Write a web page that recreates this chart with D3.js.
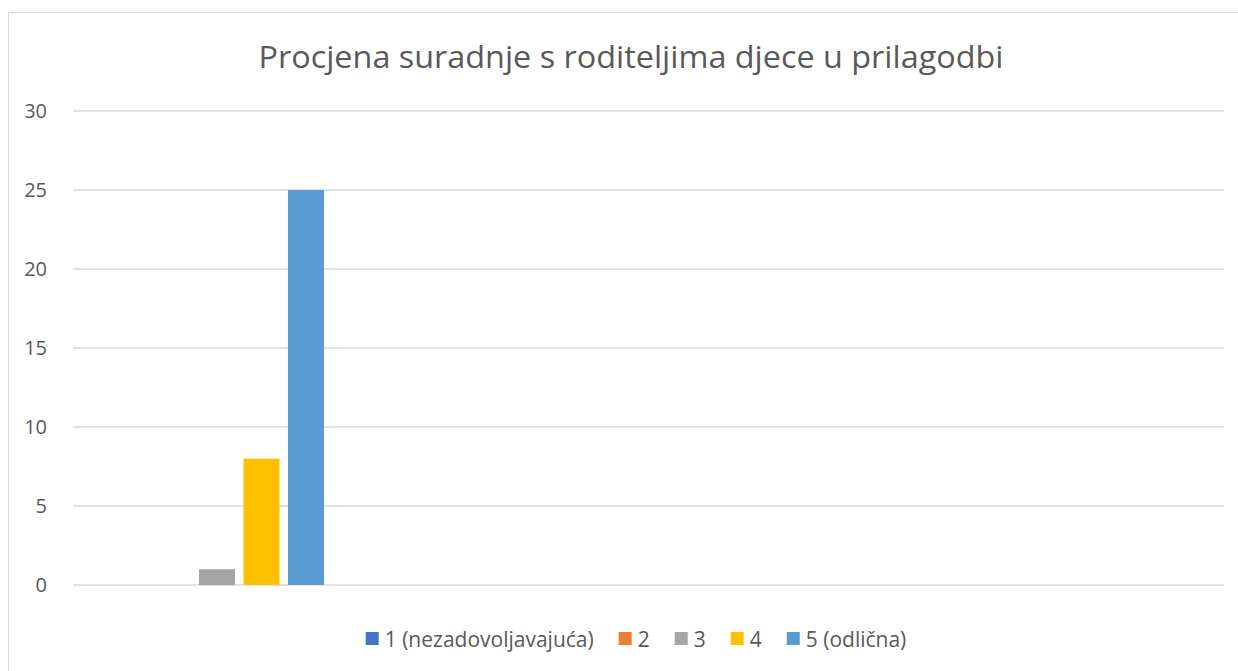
<!DOCTYPE html>
<html>
<head>
<meta charset="utf-8">
<script src="https://cdn.jsdelivr.net/npm/d3@7"></script>
<style>
  body { margin: 0; background: #fff; }
  text { font-family: "Open Sans", "Liberation Sans", sans-serif; }
</style>
</head>
<body>
<div id="chart"></div>
<script>
// data
var seriesNames = ["1 (nezadovoljavajuća)", "2", "3", "4", "5 (odlična)"];
var seriesValues = [0, 0, 1, 8, 25];
var seriesColors = ["#4472c4", "#ed7d31", "#a5a5a5", "#ffc000", "#5b9bd5"];
var yTicks = [0, 5, 10, 15, 20, 25, 30];
var title = "Procjena suradnje s roditeljima djece u prilagodbi";

var W = 1238, H = 671;
var margin = {top: 111, right: 14, bottom: 86, left: 73};
var width = W - margin.left - margin.right,
    height = H - margin.top - margin.bottom;

var svg = d3.select("#chart")
  .append("svg")
    .attr("width", W)
    .attr("height", H);

// chart border (cropped on right/bottom like the original)
svg.append("rect")
    .attr("x", 8.5).attr("y", 12.5)
    .attr("width", W + 20).attr("height", H + 20)
    .attr("fill", "none")
    .attr("stroke", "#d9d9d9")
    .attr("stroke-width", 1);

svg.append("text")
    .attr("x", 631).attr("y", 68)
    .attr("text-anchor", "middle")
    .attr("textLength", 745)
    .attr("lengthAdjust", "spacingAndGlyphs")
    .style("font-size", "31px")
    .style("fill", "#595959")
    .text(title);

var g = svg.append("g")
    .attr("transform", "translate(" + margin.left + "," + margin.top + ")");

var y = d3.scaleLinear()
    .domain([0, 30])
    .range([height, 0]);

// gridlines
g.selectAll(".grid")
  .data(yTicks)
  .enter()
  .append("line")
    .attr("x1", 0).attr("x2", width)
    .attr("y1", function(d) { return y(d); })
    .attr("y2", function(d) { return y(d); })
    .attr("stroke", "#d9d9d9")
    .attr("stroke-width", 1.5);

// y axis labels
var yAxis = g.append("g")
    .attr("transform", "translate(-26,0)")
    .call(d3.axisLeft(y).tickValues(yTicks).tickSize(0).tickPadding(0));
yAxis.select(".domain").remove();
yAxis.selectAll("text")
    .style("font-size", "20px")
    .style("fill", "#595959")
    .style("font-family", "'Open Sans', 'Liberation Sans', sans-serif");

// bars - one category cluster
var x = d3.scaleBand()
    .domain(seriesNames)
    .range([110 - margin.left, 324 - margin.left])
    .paddingInner(0.19)
    .paddingOuter(0);

g.selectAll("rect.bar")
  .data(seriesNames)
  .enter()
  .append("rect")
    .attr("class", "bar")
    .attr("x", function(d) { return x(d); })
    .attr("y", function(d, i) { return y(seriesValues[i]); })
    .attr("width", x.bandwidth())
    .attr("height", function(d, i) { return height - y(seriesValues[i]); })
    .style("fill", function(d, i) { return seriesColors[i]; });

// legend
var legend = svg.append("g");
var items = legend.selectAll("g")
  .data(seriesNames)
  .enter()
  .append("g");
items.append("rect")
    .attr("width", 13).attr("height", 13)
    .attr("y", -7)
    .style("fill", function(d, i) { return seriesColors[i]; });
items.append("text")
    .attr("x", 19)
    .attr("dy", "0.36em")
    .style("font-size", "21px")
    .style("fill", "#595959")
    .text(function(d) { return d; });

var xpos = 0;
items.each(function() {
  var w = this.getBBox().width;
  d3.select(this).attr("transform", "translate(" + xpos + ",0)");
  xpos += w + 25;
});
var total = xpos - 25;
legend.attr("transform", "translate(" + (636 - total / 2) + ",639)");
</script>
</body>
</html>
